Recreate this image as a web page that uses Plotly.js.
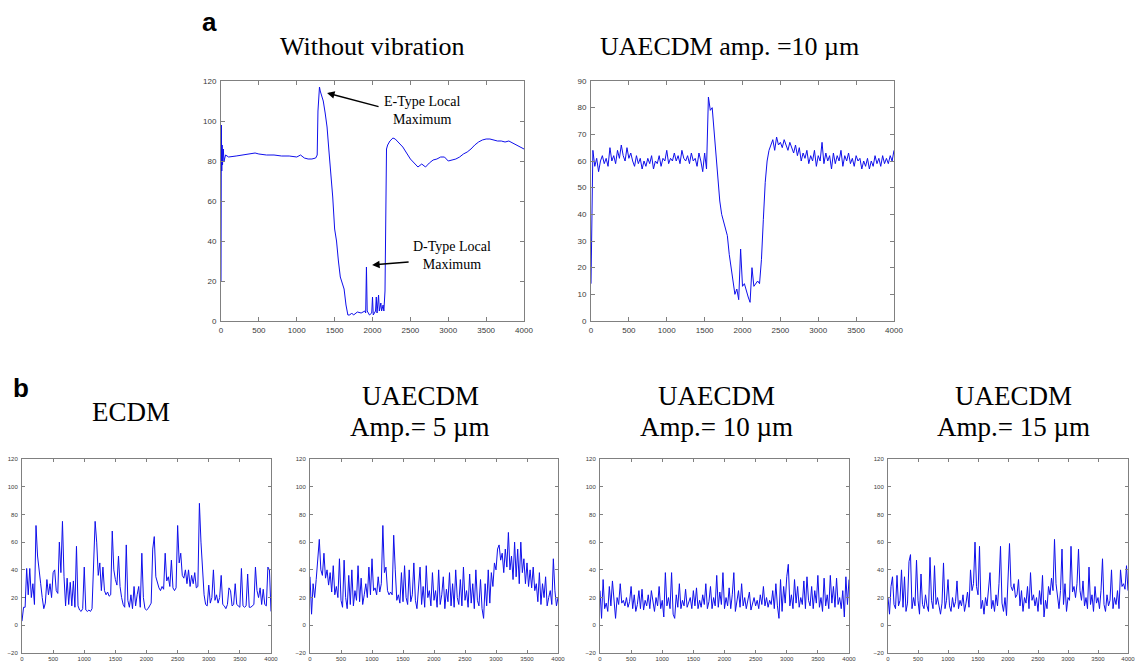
<!DOCTYPE html>
<html>
<head>
<meta charset="utf-8">
<script src="https://cdn.plot.ly/plotly-3.0.1.min.js"></script>
<style>html,body{margin:0;padding:0;background:#fff;}#chart{width:1137px;height:664px;}</style>
</head>
<body>
<div id="chart"></div>
<script>
// ---------- DATA ----------
// Panel a (left): Without vibration (sample index, current)
const noVibX = [0,5,10,15,20,30,40,60,100,200,300,400,450,500,600,700,800,900,1000,1050,1100,1150,1200,1250,1270,1280,1300,1310,1330,1350,1375,1400,1425,1450,1475,1500,1525,1550,1575,1600,1625,1650,1675,1700,1725,1750,1800,1850,1900,1910,1920,1930,1960,1990,2000,2010,2040,2050,2060,2080,2090,2110,2120,2140,2150,2165,2175,2185,2200,2230,2270,2300,2350,2400,2450,2500,2550,2600,2650,2700,2750,2800,2850,2900,2950,3000,3050,3100,3150,3200,3250,3300,3350,3400,3450,3500,3550,3600,3650,3700,3750,3800,3850,3900,3950,4000];
const noVibY = [20,98,75,88,78,86,80,83,82,82.5,83,83.5,84,83.5,83,83,82.5,82.5,82,83,81.5,81,81,81.5,83,105,117,115,113,110,104,97,85,74,62,46,40,30,22,19,16,8,3,3,4,3,4.5,4,5,4,27,5,3,4,12,3,5,12,4,13,5,9,5,8,5,15,80,86,88,90,91.5,91,89,87,84,81,79,77,78.5,77,79,80.5,81,82,82,80,80.5,81,82,83.5,84.5,86,88,89.5,90.5,91,91,90.5,90,90,89.5,90,89,88,87,86];

// Remaining panels: one value every 25 samples, 0..4000
const sampleStep = 25;
const uaAmp10a = [14,64,58,61,56,60,62,59,61,58,65,60,62,59,64,61,66,62,60,65,61,63,60,58,62,59,61,57,60,58,61,59,62,57,60,59,62,58,61,60,64,59,61,60,63,60,62,59,64,61,60,62,59,63,60,61,58,63,60,56,63,57,84,79,80,71,62,52,45,40,37,35,32,25,20,16,10,12,8,27,13,14,11,9,7,20,13,14,15,14,23,38,52,60,64,66,68,64,69,66,67,65,68,66,64,67,65,63,66,62,65,60,63,61,64,59,62,60,64,58,62,60,67,59,63,60,62,57,63,59,62,60,64,58,62,60,63,59,61,58,62,60,61,57,60,58,61,57,60,58,62,59,61,58,62,59,61,59,62,60,64];

const ecdm = [3,13,13,41,22,41,20,30,15,72,50,38,30,20,12,16,33,22,30,20,38,40,25,23,60,38,75,35,14,34,15,31,14,32,13,57,14,11,10,12,42,11,10,11,10,12,38,75,60,36,45,25,42,25,22,24,21,22,68,40,33,29,50,28,20,15,13,58,18,13,22,12,28,14,22,28,13,52,20,12,11,12,14,16,55,64,35,30,27,25,28,26,52,32,35,28,47,27,25,27,72,45,52,36,34,40,30,40,28,36,30,38,27,28,88,60,35,22,15,14,29,16,20,40,18,22,16,20,36,15,14,12,15,27,25,14,15,30,15,14,13,41,14,13,14,37,13,13,14,15,42,25,20,27,15,26,15,14,42,40,10];

const uaAmp5 = [35,8,30,20,33,45,62,40,36,52,34,40,29,38,24,43,22,28,20,48,18,13,47,20,12,36,15,40,14,25,18,43,17,34,15,22,30,20,42,22,48,25,27,22,35,24,30,72,38,42,25,22,24,22,65,40,18,22,16,38,17,43,20,15,40,17,22,45,18,12,28,42,15,28,13,43,20,25,14,38,18,25,13,40,15,22,35,12,26,17,38,14,30,13,40,20,15,33,14,42,18,25,13,37,16,30,12,40,18,14,33,12,5,30,14,40,16,38,28,45,40,55,58,47,52,38,55,42,67,40,50,33,60,35,55,30,60,38,48,30,45,28,40,27,42,25,30,17,38,15,30,20,35,14,20,25,15,48,25,14,20];

const uaAmp10b = [25,5,33,12,16,10,28,14,32,18,5,20,15,30,16,18,14,20,13,17,28,12,22,10,15,25,12,26,11,18,14,22,12,25,16,10,20,14,28,12,18,6,38,14,20,12,38,8,5,22,13,30,12,18,14,26,13,16,20,12,25,14,27,12,18,13,22,15,30,12,17,28,12,20,14,36,13,24,15,38,12,20,14,27,12,22,38,10,18,25,13,30,14,20,12,17,24,11,16,20,14,18,12,22,15,28,14,20,13,18,15,25,12,30,14,5,33,10,28,16,35,44,14,22,12,33,16,28,13,20,15,32,12,35,18,14,28,12,25,16,36,13,20,10,34,14,22,12,36,16,28,13,34,15,20,12,25,6,35,15,33];

const uaAmp15 = [20,8,28,35,15,12,36,14,18,40,13,35,10,16,46,51,12,20,14,47,18,8,37,15,12,22,14,10,49,18,12,43,15,20,14,8,16,45,12,18,33,14,10,20,13,17,32,12,18,14,22,10,16,24,13,40,25,30,60,28,22,57,12,18,8,20,14,25,38,12,18,10,22,14,30,57,16,10,20,7,35,59,28,25,30,20,22,33,14,25,10,20,16,28,12,38,18,22,14,20,10,25,15,36,6,18,12,28,22,34,25,62,30,20,12,25,55,15,30,10,20,18,57,24,28,20,30,55,25,18,32,14,20,12,42,15,22,10,28,16,20,12,25,48,15,10,22,14,18,40,12,20,15,25,12,40,28,30,26,43,25];

// Titles / labels
const topTitles = ["Without vibration", "UAECDM amp. =10 \u00b5m"];
const bottomTitles = [["ECDM"], ["UAECDM", "Amp.= 5 \u00b5m"], ["UAECDM", "Amp.= 10 \u00b5m"], ["UAECDM", "Amp.= 15 \u00b5m"]];
const panelLetters = ["a", "b"];
const peakLabels = ["E-Type Local<br>Maximum", "D-Type Local<br>Maximum"];

// ---------- BUILD ----------
function sampleAxis(n) { const a = []; for (let i = 0; i < n; i++) a.push(i * sampleStep); return a; }

const W = 1137, H = 664;
const lineStyle = {color: 'rgb(15,15,235)', width: 1};

const traces = [
  {x: noVibX, y: noVibY, xaxis: 'x', yaxis: 'y'},
  {x: sampleAxis(uaAmp10a.length), y: uaAmp10a, xaxis: 'x2', yaxis: 'y2'},
  {x: sampleAxis(ecdm.length), y: ecdm, xaxis: 'x3', yaxis: 'y3'},
  {x: sampleAxis(uaAmp5.length), y: uaAmp5, xaxis: 'x4', yaxis: 'y4'},
  {x: sampleAxis(uaAmp10b.length), y: uaAmp10b, xaxis: 'x5', yaxis: 'y5'},
  {x: sampleAxis(uaAmp15.length), y: uaAmp15, xaxis: 'x6', yaxis: 'y6'}
].map(t => Object.assign(t, {type: 'scatter', mode: 'lines', line: lineStyle, hoverinfo: 'skip', showlegend: false}));

// plot boxes in pixels [left, right, top, bottom]
const boxes = [
  [221, 524, 81, 321],
  [591, 894, 81, 321],
  [22, 271, 459, 653],
  [310, 558, 459, 653],
  [600, 849, 459, 653],
  [888, 1128, 459, 653]
];
const yRanges = [[0,120],[0,90],[-20,120],[-20,120],[-20,120],[-20,120]];
const yDtick = [20,10,20,20,20,20];

const layout = {
  width: W, height: H,
  margin: {l: 0, r: 0, t: 0, b: 0},
  paper_bgcolor: '#fff', plot_bgcolor: '#fff',
  showlegend: false,
  annotations: [],
  font: {family: 'Liberation Sans, Arial, sans-serif'}
};

boxes.forEach((b, i) => {
  const sfx = i === 0 ? '' : String(i + 1);
  const top = i < 2;
  const fs = top ? 8 : 6;
  const common = {
    showline: true, mirror: 'ticks', linecolor: '#808080', linewidth: 1,
    ticks: 'inside', ticklen: top ? 4 : 3, tickcolor: '#808080', tickwidth: 1,
    showgrid: false, zeroline: false,
    tickfont: {family: 'Liberation Sans, Arial, sans-serif', size: fs, color: '#3a3a3a'},
    fixedrange: true
  };
  layout['xaxis' + sfx] = Object.assign({}, common, {
    domain: [b[0] / W, b[1] / W], range: [0, 4000], tickmode: 'linear', tick0: 0, dtick: 500,
    anchor: 'y' + sfx, ticklabelstandoff: top ? 1 : 0
  });
  layout['yaxis' + sfx] = Object.assign({}, common, {
    domain: [1 - b[3] / H, 1 - b[2] / H], range: yRanges[i], tickmode: 'linear', tick0: yRanges[i][0], dtick: yDtick[i],
    anchor: 'x' + sfx, ticklabelstandoff: 2
  });
});

const serif = 'Liberation Serif, Times New Roman, serif';
function paperText(text, px, py, size, fam) {
  layout.annotations.push({
    text: text, xref: 'paper', yref: 'paper', x: px / W, y: 1 - py / H,
    xanchor: 'center', yanchor: 'middle', showarrow: false,
    font: {family: fam || serif, size: size, color: '#000'}
  });
}

// panel letters
paperText('<b>' + panelLetters[0] + '</b>', 209, 22, 26, 'Liberation Sans, Arial, sans-serif');
paperText('<b>' + panelLetters[1] + '</b>', 21, 388, 26, 'Liberation Sans, Arial, sans-serif');

// top titles
paperText(topTitles[0], 372, 47, 26);
paperText(topTitles[1], 730, 47, 26);

// bottom titles
const bCenters = [131, 420, 716, 1013];
bottomTitles.forEach((lines, i) => {
  if (lines.length === 1) {
    paperText(lines[0], bCenters[i], 412, 27);
  } else {
    paperText(lines[0], bCenters[i], 396, 27);
    paperText(lines[1], bCenters[i], 427, 27);
  }
});

// peak labels and arrows on panel a-left
layout.annotations.push({
  text: peakLabels[0], xref: 'x', yref: 'y', x: 2653, y: 105, showarrow: false,
  xanchor: 'center', yanchor: 'middle', font: {family: serif, size: 14, color: '#000'}
});
layout.annotations.push({
  text: peakLabels[1], xref: 'x', yref: 'y', x: 3050, y: 32.5, showarrow: false,
  xanchor: 'center', yanchor: 'middle', font: {family: serif, size: 14, color: '#000'}
});
layout.annotations.push({
  text: '', xref: 'x', yref: 'y', x: 1400, y: 114, showarrow: true,
  ax: 53, ay: 14, arrowhead: 2, arrowsize: 1, arrowwidth: 1.5, arrowcolor: '#000'
});
layout.annotations.push({
  text: '', xref: 'x', yref: 'y', x: 1995, y: 28, showarrow: true,
  ax: 38, ay: -3, arrowhead: 2, arrowsize: 1, arrowwidth: 1.5, arrowcolor: '#000'
});

Plotly.newPlot('chart', traces, layout, {staticPlot: true, displayModeBar: false});
</script>
</body>
</html>
